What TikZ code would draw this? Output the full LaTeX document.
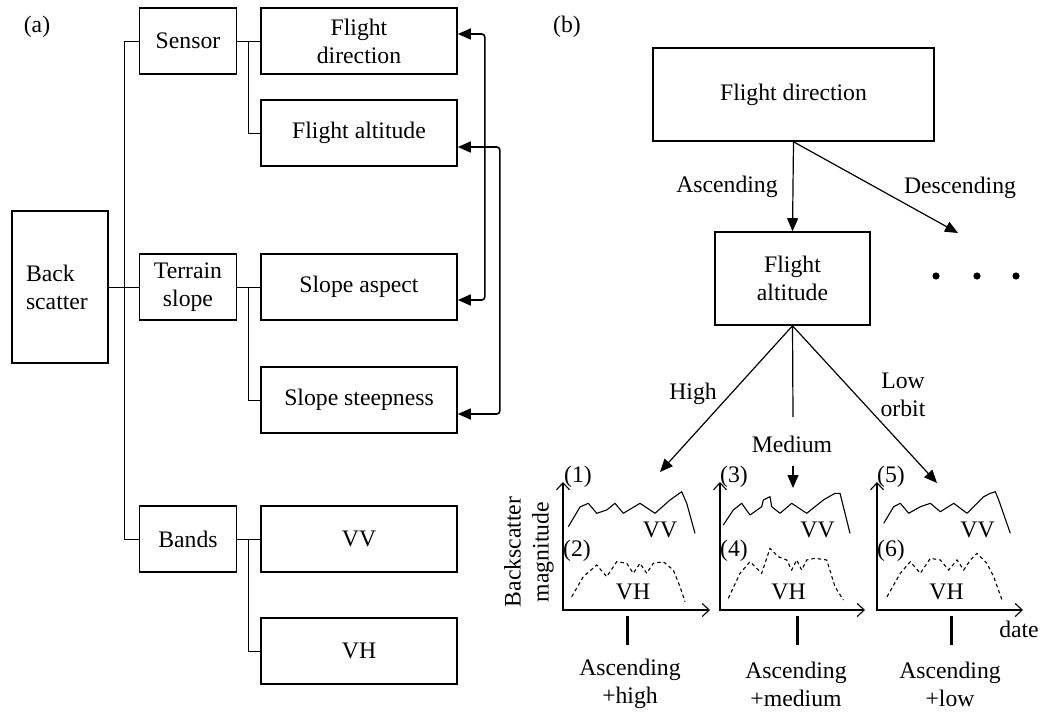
\documentclass[tikz,border=0pt]{standalone}
\usepackage{fontspec}
\setmainfont{Liberation Serif}
\usetikzlibrary{arrows.meta,calc}
\newcommand{\figfont}{\fontsize{23.7}{28}\selectfont}
\begin{document}
\begin{tikzpicture}[x=1pt,y=-1pt,
  box/.style={draw, line width=1.6pt, inner sep=0pt, align=center, font=\figfont},
  lbl/.style={inner sep=0pt, align=center, font=\figfont},
  conn/.style={line width=1pt},
  dbl/.style={line width=1.6pt, rounded corners=3pt, {Triangle[length=13pt,width=11pt]}-{Triangle[length=13pt,width=11pt]}},
  arr/.style={line width=1.2pt, -{Triangle[length=13pt,width=11pt]}},
  axis/.style={line width=1.1pt, {Straight Barb[length=7pt,width=13pt]}-{Straight Barb[length=7pt,width=13pt]}},
  vv/.style={line width=1.1pt, line join=round},
  vh/.style={line width=1.1pt, dash pattern=on 3.5pt off 3pt},
  bar/.style={line width=3pt}]
\useasboundingbox (0,0) rectangle (1040,712);

% ---------- panel (a)
\node[lbl] (la) at (37,27) {(a)};
\node[box, minimum width=96pt, minimum height=152pt, text width=68pt, align=left] (bs) at (60,287) {Back\\scatter};
\node[box, minimum width=97pt, minimum height=66pt] (sen) at (188,41) {Sensor};
\node[box, minimum width=97pt, minimum height=66pt] (ter) at (188,287) {Terrain\\slope};
\node[box, minimum width=97pt, minimum height=66pt] (ban) at (188,539) {Bands};
\node[box, minimum width=196pt, minimum height=66pt] (fd) at (359,41) {Flight\\direction};
\node[box, minimum width=196pt, minimum height=66pt] (fa) at (359,133) {Flight altitude};
\node[box, minimum width=196pt, minimum height=66pt] (sa) at (359,287) {Slope aspect};
\node[box, minimum width=196pt, minimum height=66pt] (ss) at (359,400) {Slope steepness};
\node[box, minimum width=196pt, minimum height=66pt] (vvb) at (359,539) {VV};
\node[box, minimum width=196pt, minimum height=66pt] (vhb) at (359,651) {VH};

\draw[conn] (bs) -- (ter);
\draw[conn] (sen.west) -- ++(-14,0) |- (ban.west);
\draw[conn] (sen) -- (fd);
\draw[conn] ($(sen.east)!0.5!(fd.west)$) |- (fa.west);
\draw[conn] (ter) -- (sa);
\draw[conn] ($(ter.east)!0.5!(sa.west)$) |- (ss.west);
\draw[conn] (ban) -- (vvb);
\draw[conn] ($(ban.east)!0.5!(vvb.west)$) |- (vhb.west);

\draw[dbl] ([yshift=7pt]fd.east) -- ++(27,0) |- ([yshift=-13pt]sa.east);
\draw[dbl] ([yshift=-14pt]fa.east) -- ++(42,0) |- ([yshift=-14pt]ss.east);

% ---------- panel (b)
\node[lbl] (lb) at (567,27) {(b)};
\node[box, minimum width=281pt, minimum height=93pt] (fdb) at (793.5,94.5) {Flight direction};
\node[box, minimum width=155pt, minimum height=93pt] (fab) at (792.5,278.5) {Flight\\altitude};
\draw[arr] (fdb.south) -- (fab.north);
\node[lbl] (asc) at (727,187) {Ascending};
\coordinate (dend) at (958,233);
\draw[arr] (fdb.south) -- (dend);
\node[lbl] (desc) at (960,188) {Descending};
\fill (936,276) circle (3.6pt);
\fill (977,276) circle (3.6pt);
\fill (1016,276) circle (3.6pt);

\coordinate (hiend) at (660,472);
\draw[arr] (fab.south) -- (hiend);
\node[lbl] (hi) at (693,394) {High};
\coordinate (medend) at (793,417);
\draw[line width=1.2pt] (fab.south) -- (medend);
\node[lbl] (med) at (792,444) {Medium};
\coordinate (m1) at (793,466);
\coordinate (m2) at (793,488);
\draw[arr] (m1) -- (m2);
\coordinate (loend) at (937,483);
\draw[arr] (fab.south) -- (loend);
\node[lbl] (lo) at (903,395) {Low\\orbit};

% chart 1
\begin{scope}[shift={(563,610)}]
\draw[axis] (0,-128) -- (0,0) -- (147,0);
\draw[vv] (5.3,-83.3) -- (17,-103) -- (25.3,-106.7) -- (33.7,-96.7) -- (43.7,-100) -- (52,-106.7) -- (60.3,-96.7) -- (77,-106.7) -- (92,-96.7) -- (107,-110) -- (118.7,-118.3) -- (123.7,-106.7) -- (132,-76.7);
\draw[vh] (8.7,-13.3) -- (20.3,-33.3) -- (33.7,-45) -- (43.7,-33.3) -- (53.7,-48.3) -- (63.7,-46.7) -- (70.3,-36.7) -- (77,-46.7) -- (83.7,-36.7) -- (90.3,-46.7) -- (100.3,-48.3) -- (110.3,-40) -- (117,-23.3) -- (122,-8.3);
\node[lbl] (n1) at (15,-133) {(1)};
\node[lbl] (n2) at (14,-59) {(2)};
\node[lbl] (vv1) at (97,-80) {VV};
\node[lbl] (vh1) at (70,-18) {VH};
\end{scope}

% chart 2
\begin{scope}[shift={(720,610)}]
\draw[axis] (0,-128) -- (0,0) -- (145,0);
\draw[vv] (3.3,-85) -- (13.3,-100) -- (21.7,-106.7) -- (30,-95) -- (41.7,-103.3) -- (43.3,-110) -- (50,-113.3) -- (51.7,-103.3) -- (60,-96.7) -- (71.7,-106.7) -- (86.7,-96.7) -- (103.3,-110) -- (115,-116.7) -- (120,-116.7) -- (130,-76.7);
\draw[vh] (8.3,-11.7) -- (20,-36.7) -- (30,-48.3) -- (41.7,-36.7) -- (50,-61.7) -- (58.3,-53.3) -- (66.7,-50) -- (71.7,-40) -- (76.7,-50) -- (81.7,-40) -- (86.7,-50) -- (95,-51.7) -- (106.7,-50) -- (115,-23.3) -- (123.3,-10);
\node[lbl] (n3) at (14,-133) {(3)};
\node[lbl] (n4) at (14,-59) {(4)};
\node[lbl] (vv2) at (97.5,-80) {VV};
\node[lbl] (vh2) at (68.5,-18) {VH};
\end{scope}

% chart 3
\begin{scope}[shift={(877,610)}]
\draw[axis] (0,-128) -- (0,0) -- (146,0);
\draw[vv] (6.7,-86.7) -- (16.7,-103.3) -- (23.3,-106.7) -- (31.7,-96.7) -- (43.3,-103.3) -- (53.3,-106.7) -- (63.3,-98.3) -- (76.7,-106.7) -- (90,-96.7) -- (100,-106.7) -- (106.7,-113.3) -- (113.3,-116.7) -- (118.3,-118.3) -- (121.7,-110) -- (133.3,-76.7);
\draw[vh] (10,-13.3) -- (23.3,-36.7) -- (33.3,-48.3) -- (43.3,-36.7) -- (53.3,-51.7) -- (63.3,-50) -- (71.7,-40) -- (80,-50) -- (86.7,-40) -- (93.3,-50) -- (100,-56.7) -- (110,-46.7) -- (116.7,-33.3) -- (125,-10);
\node[lbl] (n5) at (14,-133) {(5)};
\node[lbl] (n6) at (14,-59) {(6)};
\node[lbl] (vv3) at (100.5,-80) {VV};
\node[lbl] (vh3) at (69.5,-18) {VH};
\end{scope}

\node[lbl, rotate=90] (ylab) at (529,552) {Backscatter\\magnitude};
\node[lbl, anchor=base] (date) at (1019,637) {date};

\coordinate (b1t) at (627,616); \coordinate (b1b) at (627,645);
\coordinate (b2t) at (797,616); \coordinate (b2b) at (797,645);
\coordinate (b3t) at (951,616); \coordinate (b3b) at (951,645);
\draw[bar] (b1t) -- (b1b);
\draw[bar] (b2t) -- (b2b);
\draw[bar] (b3t) -- (b3b);
\node[lbl] (c1) at (630,684) {Ascending\\+high};
\node[lbl] (c2) at (796,684) {Ascending\\+medium};
\node[lbl] (c3) at (950,684) {Ascending\\+low};
\end{tikzpicture}
\end{document}
